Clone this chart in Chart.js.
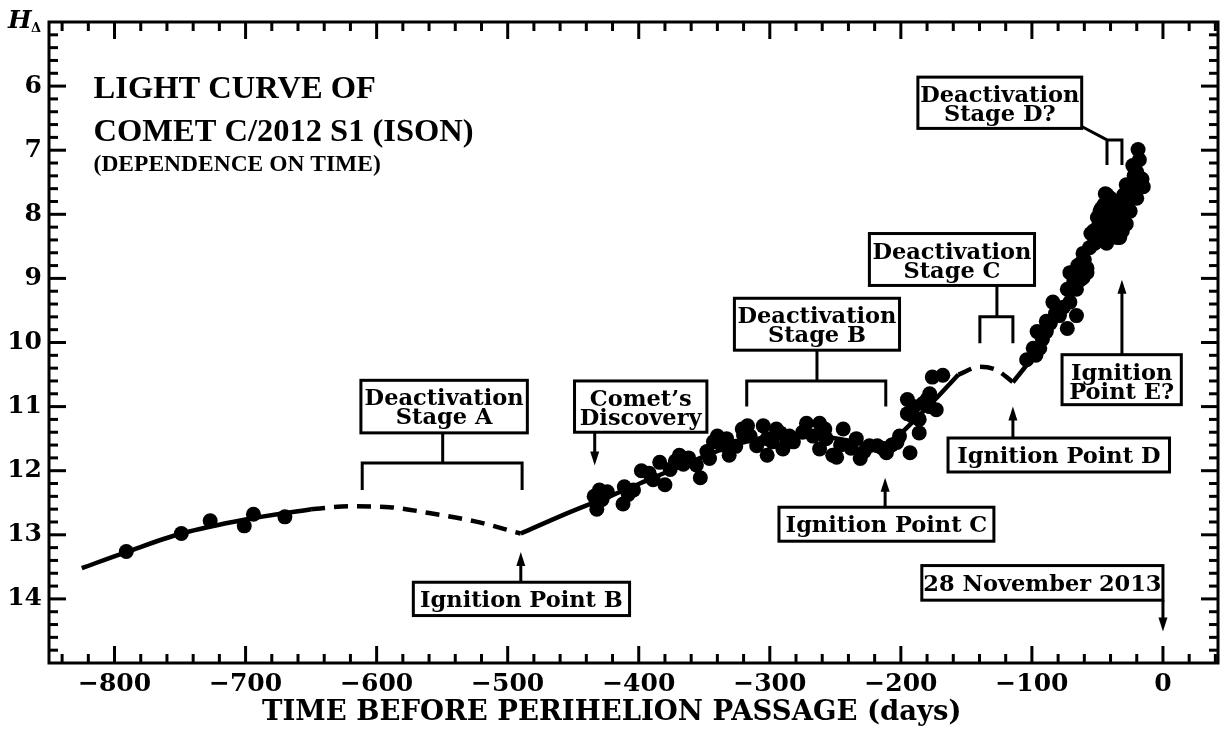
<!DOCTYPE html>
<html>
<head>
<meta charset="utf-8">
<script src="https://cdn.jsdelivr.net/npm/chart.js@4.4.1/dist/chart.umd.min.js"></script>
<style>
  html, body { margin: 0; padding: 0; background: #fff; }
  #wrap { width: 1231px; height: 732px; }
</style>
</head>
<body>
<div id="wrap"><canvas id="c" width="1231" height="732"></canvas></div>
<script>
/* ── Light curve of comet C/2012 S1 (ISON) ── */

const xTicks = [-800, -700, -600, -500, -400, -300, -200, -100, 0];
const yTicks = [6, 7, 8, 9, 10, 11, 12, 13, 14];

// observed magnitudes H_delta vs days before perihelion
const obsDays = [
  -791, -749, -727, -701, -694, -670,
  -434, -430, -432, -428, -424, -411, -412, -408, -404,
  -398, -392, -389, -384, -380, -376, -372, -369, -366, -362, -356, -353, -348, -346,
  -343, -340, -336, -333, -331, -326, -321, -320, -315, -317, -310, -305, -302, -302, -298,
  -295, -292, -290, -287, -285, -282, -275, -272, -267, -262, -262, -258, -257, -252,
  -249, -246, -244, -238, -234, -231, -228, -224, -218, -214, -211, -207, -203, -201, -193,
  -195, -195, -191, -190, -186, -186, -183, -180, -178, -178, -173, -176, -168,
  -104, -99, -97, -96, -94, -92, -89, -89, -86, -84, -82, -79, -76, -73, -71, -66, -66,
  -73, -71, -68, -65, -63, -62, -61, -61, -58, -58, -60, -56, -55, -53, -52, -50, -50, -52,
  -48, -47, -48, -45, -44, -43, -43, -43, -42, -41, -40, -38, -38, -36, -35, -35, -33, -33, -31, -31,
  -30, -28, -28, -27, -25, -25, -24, -23, -22, -21, -20, -20, -18, -16, -15, -19
];
const obsMag = [
  13.26, 12.98, 12.78, 12.86, 12.68, 12.72,
  12.40, 12.30, 12.60, 12.45, 12.33, 12.25, 12.52, 12.37, 12.30,
  12.00, 12.04, 12.14, 11.87, 12.22, 11.98, 11.85, 11.76, 11.90, 11.80, 11.91, 12.11, 11.70, 11.81,
  11.55, 11.46, 11.60, 11.50, 11.76, 11.62, 11.35, 11.45, 11.46, 11.30, 11.61, 11.30, 11.76, 11.50, 11.55,
  11.35, 11.41, 11.66, 11.50, 11.46, 11.55, 11.40, 11.26, 11.46, 11.26, 11.66, 11.35, 11.50, 11.76,
  11.79, 11.60, 11.35, 11.65, 11.50, 11.81, 11.70, 11.61, 11.61, 11.65, 11.72, 11.60, 11.56, 11.46, 11.72,
  11.11, 10.89, 11.15, 11.00, 11.20, 11.41, 10.95, 10.89, 10.80, 11.00, 11.05, 10.54, 10.51,
  10.27, 10.09, 10.20, 9.83, 10.09, 9.95, 9.67, 9.83, 9.70, 9.37, 9.55, 9.58, 9.45, 9.78, 9.37, 9.58, 9.17,
  9.17, 8.91, 9.05, 8.80, 9.02, 8.75, 8.99, 8.61, 8.91, 8.84, 8.71, 8.52, 8.30, 8.26, 8.45, 8.21, 8.05, 8.40,
  7.95, 7.91, 8.30, 7.85, 7.68, 7.69, 8.10, 8.45, 8.25, 8.18, 7.75, 7.95, 8.05, 8.15, 7.84, 8.36, 7.90, 8.36, 8.06, 8.26,
  7.70, 8.15, 7.54, 7.85, 7.95, 7.75, 7.55, 7.24, 7.40, 7.60, 7.75, 7.34, 7.15, 7.45, 7.57, 6.99
];

// fitted light curve segments (solid = fit, dashed = interpolated)
const fitADays = [-825, -791, -749, -700, -650];
const fitAMag  = [13.52, 13.27, 12.98, 12.76, 12.60];
const gapADays = [-650, -620, -590, -560, -525, -490];
const gapAMag  = [12.60, 12.555, 12.57, 12.66, 12.79, 12.98];
const fitBDays = [-490, -453, -420, -390, -360, -330, -300, -270, -240, -212, -200, -190, -172, -156];
const fitBMag  = [12.98, 12.65, 12.38, 12.12, 11.86, 11.62, 11.47, 11.45, 11.53, 11.64, 11.42, 11.22, 10.85, 10.50];
const gapCDays = [-156, -140, -127, -114.5];
const gapCMag  = [10.50, 10.38, 10.43, 10.62];
const fitDDays = [-114.5, -100];
const fitDMag  = [10.62, 10.25];

const pts = (xs, ys) => xs.map((x, i) => ({ x, y: ys[i] }));

// annotation boxes, anchored in data units (days, magnitude)
const boxes = [
  { x0: -612, x1: -485, y0: 10.59, y1: 11.41, lines: ['Deactivation', 'Stage A'] },
  { x0: -449, x1: -348, y0: 10.60, y1: 11.40, lines: ['Comet\u2019s', 'Discovery'] },
  { x0: -327, x1: -201, y0: 9.31, y1: 10.12, lines: ['Deactivation', 'Stage B'] },
  { x0: -224, x1: -98, y0: 8.30, y1: 9.11, lines: ['Deactivation', 'Stage C'] },
  { x0: -187, x1: -62, y0: 5.86, y1: 6.66, lines: ['Deactivation', 'Stage D?'] },
  { x0: -572, x1: -407, y0: 13.74, y1: 14.26, lines: ['Ignition Point B'] },
  { x0: -293, x1: -129, y0: 12.57, y1: 13.10, lines: ['Ignition Point C'] },
  { x0: -164, x1: 5, y0: 11.49, y1: 12.02, lines: ['Ignition Point D'] },
  { x0: -77, x1: 14, y0: 10.19, y1: 10.97, lines: ['Ignition', 'Point E?'] },
  { x0: -184, x1: 0, y0: 13.48, y1: 14.02, lines: ['28 November 2013'] }
];
// brackets: stem from box bottom, then a span with two legs
const brackets = [
  { stemX: -549.6, stemY0: 11.41, barY: 11.88, a: -611, b: -489, legY: 12.30 },
  { stemX: -264, stemY0: 10.12, barY: 10.60, a: -317.6, b: -211.5, legY: 11.0 },
  { stemX: -126.7, stemY0: 9.11, barY: 9.60, a: -139.7, b: -114.5, legY: 10.01 }
];
// arrows: x, from y0 to y1 (head at y1)
const arrows = [
  { x: -433.6, y0: 11.40, y1: 11.92 },
  { x: -490, y0: 13.74, y1: 13.27 },
  { x: -212, y0: 12.57, y1: 12.11 },
  { x: -114.5, y0: 11.49, y1: 11.0 },
  { x: -31.3, y0: 10.19, y1: 9.02 },
  { x: 0, y0: 14.02, y1: 14.51 }
];

const SERIF = '"DejaVu Serif", "Liberation Serif", serif';
const TIMES = '"Liberation Serif", "DejaVu Serif", serif';

function line(ctx, x1, y1, x2, y2) {
  ctx.beginPath(); ctx.moveTo(x1, y1); ctx.lineTo(x2, y2); ctx.stroke();
}

const decorations = {
  id: 'decorations',
  afterDatasetsDraw(chart) {
    const { ctx, chartArea: a, scales: { x, y } } = chart;
    const X = v => x.getPixelForValue(v), Y = v => y.getPixelForValue(v);
    ctx.save();
    ctx.strokeStyle = '#000';
    ctx.fillStyle = '#000';
    ctx.lineWidth = 3;
    ctx.lineCap = 'butt';

    // frame + inward ticks on all sides
    ctx.strokeRect(a.left, a.top, a.right - a.left, a.bottom - a.top);
    for (let v = -840; v <= 40; v += 20) {
      const px = X(v), len = v % 100 === 0 ? 17 : 9;
      line(ctx, px, a.bottom, px, a.bottom - len);
      line(ctx, px, a.top, px, a.top + len);
    }
    for (let i = 1; i < 50; i++) {
      const v = 5 + i * 0.2, py = Y(v), len = i % 5 === 0 ? 17 : 9;
      line(ctx, a.left, py, a.left + len, py);
      line(ctx, a.right, py, a.right - len, py);
    }

    // brackets
    brackets.forEach(b => {
      line(ctx, X(b.stemX), Y(b.stemY0), X(b.stemX), Y(b.barY));
      ctx.beginPath();
      ctx.moveTo(X(b.a), Y(b.legY)); ctx.lineTo(X(b.a), Y(b.barY));
      ctx.lineTo(X(b.b), Y(b.barY)); ctx.lineTo(X(b.b), Y(b.legY));
      ctx.stroke();
    });
    // small bracket of stage D? with slanted connector
    ctx.beginPath();
    ctx.moveTo(X(-62), Y(6.63)); ctx.lineTo(X(-42.7), Y(6.84));
    ctx.moveTo(X(-42.7), Y(7.23)); ctx.lineTo(X(-42.7), Y(6.84));
    ctx.lineTo(X(-31.3), Y(6.84)); ctx.lineTo(X(-31.3), Y(7.23));
    ctx.stroke();

    // arrows
    arrows.forEach(ar => {
      const px = X(ar.x), p0 = Y(ar.y0), p1 = Y(ar.y1), dir = p1 > p0 ? 1 : -1;
      line(ctx, px, p0, px, p1 - dir * 10);
      ctx.beginPath();
      ctx.moveTo(px, p1); ctx.lineTo(px - 4.5, p1 - dir * 14); ctx.lineTo(px + 4.5, p1 - dir * 14);
      ctx.closePath(); ctx.fill();
    });

    // boxes
    ctx.textAlign = 'center';
    ctx.textBaseline = 'alphabetic';
    ctx.font = 'bold 22.5px ' + SERIF;
    boxes.forEach(b => {
      const l = X(b.x0), r = X(b.x1), t = Y(b.y0), bt = Y(b.y1), cx = (l + r) / 2;
      ctx.fillStyle = '#fff'; ctx.fillRect(l, t, r - l, bt - t);
      ctx.strokeRect(l, t, r - l, bt - t);
      ctx.fillStyle = '#000';
      if (b.lines.length === 1) ctx.fillText(b.lines[0], cx, bt - 9);
      else { ctx.fillText(b.lines[0], cx, t + 25); ctx.fillText(b.lines[1], cx, t + 44); }
    });

    // title block
    ctx.textAlign = 'left';
    ctx.font = 'bold 32.5px ' + TIMES;
    ctx.fillText('LIGHT CURVE OF', X(-816), Y(6.183));
    ctx.fillText('COMET C/2012 S1 (ISON)', X(-816), Y(6.854));
    ctx.font = 'bold 23.5px ' + TIMES;
    ctx.fillText('(DEPENDENCE ON TIME)', X(-816), Y(7.33));

    // y axis label H_delta
    ctx.font = 'italic bold 25px ' + SERIF;
    ctx.fillText('H', 8, 28);
    ctx.font = 'bold 13px ' + SERIF;
    ctx.fillText('\u0394', 31, 32);

    // x axis title
    ctx.textAlign = 'center';
    ctx.font = 'bold 27.5px ' + SERIF;
    ctx.fillText('TIME BEFORE PERIHELION PASSAGE (days)', X(-420.6), 720);
    ctx.restore();
  }
};

const tickFont = { family: SERIF, size: 25, weight: 'bold' };
const fmt = v => (v < 0 ? '\u2212' + Math.abs(v) : String(v));

new Chart(document.getElementById('c'), {
  type: 'scatter',
  data: {
    datasets: [
      { data: pts(fitADays, fitAMag), showLine: true, borderColor: '#000', borderWidth: 4.5, pointRadius: 0, cubicInterpolationMode: 'monotone' },
      { data: pts(gapADays, gapAMag), showLine: true, borderColor: '#000', borderWidth: 4.5, pointRadius: 0, borderDash: [14, 9], cubicInterpolationMode: 'monotone' },
      { data: pts(fitBDays, fitBMag), showLine: true, borderColor: '#000', borderWidth: 4.5, pointRadius: 0, cubicInterpolationMode: 'monotone' },
      { data: pts(gapCDays, gapCMag), showLine: true, borderColor: '#000', borderWidth: 4.5, pointRadius: 0, borderDash: [14, 9], cubicInterpolationMode: 'monotone' },
      { data: pts(fitDDays, fitDMag), showLine: true, borderColor: '#000', borderWidth: 4.5, pointRadius: 0 },
      { data: pts(obsDays, obsMag), pointRadius: 7.5, pointBackgroundColor: '#000', pointBorderWidth: 0, borderColor: '#000' }
    ]
  },
  options: {
    responsive: false,
    animation: false,
    layout: { padding: { top: 7, right: 13, left: 0, bottom: 0 } },
    plugins: { legend: { display: false }, tooltip: { enabled: false } },
    scales: {
      x: {
        type: 'linear', min: -850, max: 42,
        grid: { display: false, drawTicks: false },
        border: { display: false },
        afterBuildTicks: s => { s.ticks = xTicks.map(value => ({ value })); },
        afterFit: s => { s.height = 69; },
        ticks: { font: tickFont, color: '#000', padding: 6, maxRotation: 0, callback: fmt }
      },
      y: {
        type: 'linear', min: 5, max: 15, reverse: true,
        grid: { display: false, drawTicks: false },
        border: { display: false },
        afterBuildTicks: s => { s.ticks = yTicks.map(value => ({ value })); },
        afterFit: s => { s.width = 49; },
        ticks: { font: tickFont, color: '#000', padding: 7, callback: fmt }
      }
    }
  },
  plugins: [decorations]
});
</script>
</body>
</html>
